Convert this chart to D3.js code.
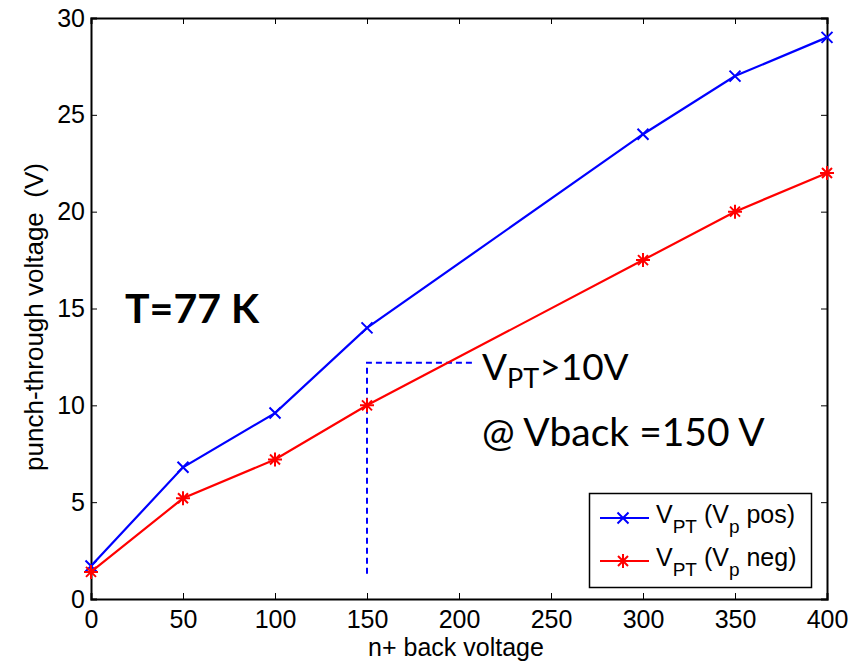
<!DOCTYPE html>
<html>
<head>
<meta charset="utf-8">
<script src="https://cdn.jsdelivr.net/npm/d3@7"></script>
<style>
  html, body { margin: 0; padding: 0; background: #fff; }
  svg { display: block; }
</style>
</head>
<body>
<svg id="chart" width="865" height="663"></svg>
<script>
// Back voltage (x) and punch-through voltage for both polarities
const backVoltage = [0, 50, 100, 150, 300, 350, 400];
const vptPos = [1.7, 6.8, 9.6, 14.0, 24.0, 27.0, 29.0];
const vptNeg = [1.4, 5.2, 7.2, 10.0, 17.5, 20.0, 22.0];
const xTicks = [0, 50, 100, 150, 200, 250, 300, 350, 400];
const yTicks = [0, 5, 10, 15, 20, 25, 30];
// Guide marking the 150 V operating point
const guideX = [150, 150, 207];
const guideY = [1.3, 12.2, 12.2];

(function () {
const svg = d3.select("#chart");
const pLeft = 91, pRight = 827, pTop = 18, pBottom = 599;
const x = d3.scaleLinear().domain([0, 400]).range([pLeft, pRight]);
const y = d3.scaleLinear().domain([0, 30]).range([pBottom, pTop]);

const sans = "'Liberation Sans', Arial, sans-serif";
const cal = "Lato, 'Open Sans', sans-serif";

// Axes with inward ticks on all four sides
const tickLen = 6;
const gB = svg.append("g").attr("transform", `translate(0,${pBottom})`)
  .call(d3.axisBottom(x).tickValues(xTicks).tickSize(-tickLen).tickPadding(11));
const gT = svg.append("g").attr("transform", `translate(0,${pTop})`)
  .call(d3.axisTop(x).tickValues(xTicks).tickSize(-tickLen).tickFormat(""));
const gL = svg.append("g").attr("transform", `translate(${pLeft},0)`)
  .call(d3.axisLeft(y).tickValues(yTicks).tickSize(-tickLen).tickPadding(6));
const gR = svg.append("g").attr("transform", `translate(${pRight},0)`)
  .call(d3.axisRight(y).tickValues(yTicks).tickSize(-tickLen).tickFormat(""));
[gB, gT, gL, gR].forEach(g => {
  g.attr("font-size", null).attr("font-family", null);
  g.select(".domain").attr("stroke", "#000").attr("stroke-width", 2);
  g.selectAll(".tick line").attr("stroke", "#000").attr("stroke-width", 1);
  g.selectAll(".tick text").attr("fill", "#000")
    .attr("font-family", sans).attr("font-size", 25);
});
gB.selectAll(".tick text").attr("dy", "0.72em");
// remove end ticks overlapping the box corners
[gB, gT].forEach(g => g.selectAll(".tick line").filter(d => d === 0 || d === 400).remove());
[gL, gR].forEach(g => g.selectAll(".tick line").filter(d => d === 0 || d === 30).remove());

// Axis titles
svg.append("text").attr("x", 456).attr("y", 656)
  .attr("text-anchor", "middle").attr("font-family", sans).attr("font-size", 25)
  .text("n+ back voltage");
svg.append("text").attr("transform", `translate(43,317) rotate(-90)`)
  .attr("text-anchor", "middle").attr("font-family", sans).attr("font-size", 26)
  .attr("xml:space", "preserve")
  .text("punch-through voltage  (V)");

// Dashed guide
const line = d3.line().x(d => x(d[0])).y(d => y(d[1]));
svg.append("path").datum(guideX.map((v, i) => [v, guideY[i]]))
  .attr("d", line).attr("fill", "none").attr("stroke", "#0000ff")
  .attr("stroke-width", 2).attr("stroke-dasharray", "6,4");

// Markers
function crossMarker(g, cx, cy, color) {
  const s = 5.5;
  g.append("path").attr("d", `M${cx - s},${cy - s}L${cx + s},${cy + s}M${cx - s},${cy + s}L${cx + s},${cy - s}`)
    .attr("stroke", color).attr("stroke-width", 2).attr("fill", "none");
}
function starMarker(g, cx, cy, color) {
  const s = 7, d = 5;
  g.append("path").attr("d",
    `M${cx - s},${cy}L${cx + s},${cy}M${cx},${cy - s}L${cx},${cy + s}` +
    `M${cx - d},${cy - d}L${cx + d},${cy + d}M${cx - d},${cy + d}L${cx + d},${cy - d}`)
    .attr("stroke", color).attr("stroke-width", 2).attr("fill", "none");
}

const series = [
  { values: vptPos, color: "#0000ff", marker: crossMarker },
  { values: vptNeg, color: "#ff0000", marker: starMarker }
];
series.forEach(s => {
  const pts = backVoltage.map((v, i) => [v, s.values[i]]);
  svg.append("path").datum(pts).attr("d", line).attr("fill", "none")
    .attr("stroke", s.color).attr("stroke-width", 2.2);
  const g = svg.append("g");
  pts.forEach(p => s.marker(g, x(p[0]), y(p[1]), s.color));
});

// Annotations
svg.append("text").attr("x", 125).attr("y", 323)
  .attr("font-family", cal).attr("font-weight", "bold").attr("font-size", 41)
  .text("T=77 K");
const ann = svg.append("text").attr("x", 482).attr("y", 380)
  .attr("font-family", cal).attr("font-size", 37);
ann.append("tspan").text("V");
ann.append("tspan").attr("dy", 8).attr("font-size", 27).text("PT");
ann.append("tspan").attr("dy", -8).text(">10V");
svg.append("text").attr("x", 482).attr("y", 446)
  .attr("font-family", cal).attr("font-size", 39)
  .text("@ Vback =150 V");

// Legend
const lg = svg.append("g");
lg.append("rect").attr("x", 589.5).attr("y", 493.5).attr("width", 222).attr("height", 94)
  .attr("fill", "#fff").attr("stroke", "#000").attr("stroke-width", 1.5);
const legendRows = [
  { label: "pos", cy: 518 },
  { label: "neg", cy: 561 }
];
series.forEach((s, i) => {
  const cy = legendRows[i].cy;
  lg.append("line").attr("x1", 600).attr("x2", 649).attr("y1", cy).attr("y2", cy)
    .attr("stroke", s.color).attr("stroke-width", 2.2);
  s.marker(lg, 623, cy, s.color);
  const t = lg.append("text").attr("x", 656).attr("y", cy + 5)
    .attr("font-family", sans).attr("font-size", 25).attr("xml:space", "preserve");
  t.append("tspan").text("V");
  t.append("tspan").attr("dy", 10).attr("font-size", 19).text("PT");
  t.append("tspan").attr("dy", -10).text(" (V");
  t.append("tspan").attr("dy", 10).attr("font-size", 19).text("p");
  t.append("tspan").attr("dy", -10).text(" " + legendRows[i].label + ")");
});
})();
</script>
</body>
</html>
